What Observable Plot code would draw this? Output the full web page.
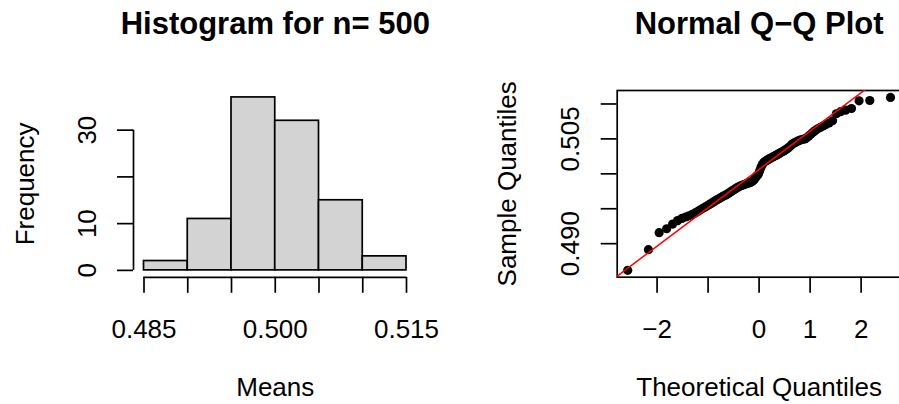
<!DOCTYPE html>
<html><head><meta charset="utf-8">
<script src="https://cdn.jsdelivr.net/npm/d3@7"></script>
<script src="https://cdn.jsdelivr.net/npm/@observablehq/plot@0.6"></script>
<style>
html,body{margin:0;padding:0;background:#fff;overflow:hidden;}
#wrap{position:relative;width:899px;height:404px;overflow:hidden;background:#fff;}
#p1{position:absolute;left:0;top:0;width:450px;height:404px;}
#p2{position:absolute;left:450px;top:0;width:452px;height:404px;}
#wrap svg{max-width:none !important;}
</style></head><body><div id="wrap"><div id="p1"></div><div id="p2"></div></div>
<script>
// ---------- Histogram panel ----------
const histTitle = "Histogram for n= 500";
const histXLabel = "Means";
const histYLabel = "Frequency";
const breaks = [0.485, 0.490, 0.495, 0.500, 0.505, 0.510, 0.515];
const counts = [2, 11, 37, 32, 15, 3];
const histXTicks = [0.485, 0.490, 0.495, 0.500, 0.505, 0.510, 0.515];
const histXTickLabels = ["0.485", "", "", "0.500", "", "", "0.515"];
const histYTicks = [0, 10, 20, 30];
const histYTickLabels = ["0", "10", "", "30"];

// ---------- Q-Q panel ----------
const qqTitle = "Normal Q\u2212Q Plot";
const qqXLabel = "Theoretical Quantiles";
const qqYLabel = "Sample Quantiles";
const theoretical = [
  -2.5758,-2.1701,-1.9600,-1.8119,-1.6954,-1.5982,-1.5141,-1.4395,-1.3722,-1.3106,
  -1.2536,-1.2004,-1.1503,-1.1031,-1.0581,-1.0152,-0.9741,-0.9346,-0.8965,-0.8596,
  -0.8239,-0.7892,-0.7554,-0.7225,-0.6903,-0.6588,-0.6280,-0.5978,-0.5681,-0.5388,
  -0.5101,-0.4817,-0.4538,-0.4261,-0.3989,-0.3719,-0.3451,-0.3186,-0.2924,-0.2663,
  -0.2404,-0.2147,-0.1891,-0.1637,-0.1383,-0.1130,-0.0878,-0.0627,-0.0376,-0.0125,
  0.0125,0.0376,0.0627,0.0878,0.1130,0.1383,0.1637,0.1891,0.2147,0.2404,
  0.2663,0.2924,0.3186,0.3451,0.3719,0.3989,0.4261,0.4538,0.4817,0.5101,
  0.5388,0.5681,0.5978,0.6280,0.6588,0.6903,0.7225,0.7554,0.7892,0.8239,
  0.8596,0.8965,0.9346,0.9741,1.0152,1.0581,1.1031,1.1503,1.2004,1.2536,
  1.3106,1.3722,1.4395,1.5141,1.5982,1.6954,1.8119,1.9600,2.1701,2.5758
];
const sample = [
  0.48619,0.48914,0.49157,0.49214,0.49280,0.49330,0.49362,0.49382,0.49400,0.49420,
  0.49440,0.49462,0.49485,0.49506,0.49525,0.49543,0.49562,0.49580,0.49597,0.49613,
  0.49628,0.49643,0.49657,0.49671,0.49685,0.49695,0.49708,0.49722,0.49737,0.49751,
  0.49765,0.49778,0.49791,0.49803,0.49814,0.49824,0.49832,0.49840,0.49847,0.49854,
  0.49860,0.49866,0.49873,0.49880,0.49890,0.49905,0.49925,0.49950,0.49975,0.49996,
  0.50045,0.50095,0.50132,0.50158,0.50175,0.50188,0.50199,0.50210,0.50220,0.50230,
  0.50240,0.50250,0.50260,0.50270,0.50281,0.50292,0.50304,0.50316,0.50328,0.50341,
  0.50355,0.50370,0.50388,0.50410,0.50430,0.50443,0.50455,0.50467,0.50478,0.50488,
  0.50494,0.50499,0.50518,0.50543,0.50568,0.50596,0.50622,0.50645,0.50665,0.50685,
  0.50705,0.50728,0.50760,0.50860,0.50890,0.50912,0.50935,0.51045,0.51050,0.51094
];
const normalQuartiles = [-0.67449, 0.67449];
const qqXTicks = [-2, -1, 0, 1, 2];
const qqXTickLabels = ["\u22122", "", "0", "1", "2"];
const qqYTicks = [0.490, 0.495, 0.500, 0.505, 0.510];
const qqYTickLabels = ["0.490", "", "", "0.505", ""];

// ---------- helpers ----------
const FONT = "'Liberation Sans', Arial, Helvetica, sans-serif";
const SW = 1.7;
const ext = ([lo, hi]) => [lo - 0.04 * (hi - lo), hi + 0.04 * (hi - lo)];
const labeler = (ticks, labels) => { const m = new Map(ticks.map((t, i) => [t, labels[i]])); return d => m.get(d) ?? ""; };
const baseStyle = {fontFamily: FONT, fontSize: "26px", color: "black", background: "white", overflow: "visible", maxWidth: "none"};

// ---------- panel 1 ----------
const bins = counts.map((c, i) => ({x1: breaks[i], x2: breaks[i + 1], count: c}));
const hx = ext([breaks[0], breaks[breaks.length - 1]]);
const hy = ext([0, d3.max(counts)]);

const p1 = Plot.plot({
  width: 450, height: 404,
  marginLeft: 133, marginRight: 33.5, marginTop: 90, marginBottom: 127.2,
  x: {domain: hx}, y: {domain: hy},
  style: baseStyle,
  marks: [
    Plot.rect(bins, {x1: "x1", x2: "x2", y1: 0, y2: "count", fill: "#D3D3D3", stroke: "black", strokeWidth: SW}),
    Plot.ruleY([hy[0]], {x1: histXTicks[0], x2: histXTicks[histXTicks.length - 1], stroke: "black", strokeWidth: SW}),
    Plot.ruleX([hx[0]], {y1: histYTicks[0], y2: histYTicks[histYTicks.length - 1], stroke: "black", strokeWidth: SW}),
    Plot.axisX(histXTicks, {tickSize: 16, tickPadding: 26, strokeWidth: SW, fontSize: 26, label: null, tickFormat: labeler(histXTicks, histXTickLabels)}),
    Plot.axisY(histYTicks, {tickSize: 16, tickPadding: 22, tickRotate: -90, strokeWidth: SW, fontSize: 26, label: null, tickFormat: labeler(histYTicks, histYTickLabels)}),
    Plot.text([histTitle], {text: d => d, frameAnchor: "top", dy: -66, fontSize: 31, fontWeight: "bold", lineAnchor: "middle"}),
    Plot.text([histXLabel], {text: d => d, frameAnchor: "bottom", dy: 110, fontSize: 26, lineAnchor: "middle"}),
    Plot.text([histYLabel], {text: d => d, frameAnchor: "left", dx: -108, rotate: -90, textAnchor: "middle", fontSize: 26, lineAnchor: "middle"})
  ]
});
document.getElementById("p1").appendChild(p1);

// ---------- panel 2 ----------
const pts = theoretical.map((t, i) => ({t, s: sample[i]}));
const sorted = sample.slice().sort(d3.ascending);
const q1 = d3.quantileSorted(sorted, 0.25), q3 = d3.quantileSorted(sorted, 0.75);
const slope = (q3 - q1) / (normalQuartiles[1] - normalQuartiles[0]);
const intercept = q1 - slope * normalQuartiles[0];
const qx = ext(d3.extent(theoretical));
const qy = ext(d3.extent(sample));
const lineData = qx.map(t => ({t, s: intercept + slope * t}));

const p2 = Plot.plot({
  width: 452, height: 404,
  marginLeft: 166.7, marginRight: 1.5, marginTop: 90, marginBottom: 127.3,
  x: {domain: qx}, y: {domain: qy},
  style: baseStyle,
  marks: [
    Plot.frame({stroke: "black", strokeWidth: SW}),
    Plot.dot(pts, {x: "t", y: "s", r: 4.6, fill: "black", stroke: "none"}),
    Plot.line(lineData, {x: "t", y: "s", stroke: "#FF0000", strokeWidth: 1.5, clip: true}),
    Plot.axisX(qqXTicks, {tickSize: 16, tickPadding: 26, strokeWidth: SW, fontSize: 26, label: null, tickFormat: labeler(qqXTicks, qqXTickLabels)}),
    Plot.axisY(qqYTicks, {tickSize: 16, tickPadding: 22, tickRotate: -90, strokeWidth: SW, fontSize: 26, label: null, tickFormat: labeler(qqYTicks, qqYTickLabels)}),
    Plot.text([qqTitle], {text: d => d, frameAnchor: "top", dy: -66, fontSize: 31, fontWeight: "bold", lineAnchor: "middle"}),
    Plot.text([qqXLabel], {text: d => d, frameAnchor: "bottom", dy: 110, fontSize: 26, lineAnchor: "middle"}),
    Plot.text([qqYLabel], {text: d => d, frameAnchor: "left", dx: -110, rotate: -90, textAnchor: "middle", fontSize: 26, lineAnchor: "middle"})
  ]
});
document.getElementById("p2").appendChild(p2);
</script>
</body></html>
